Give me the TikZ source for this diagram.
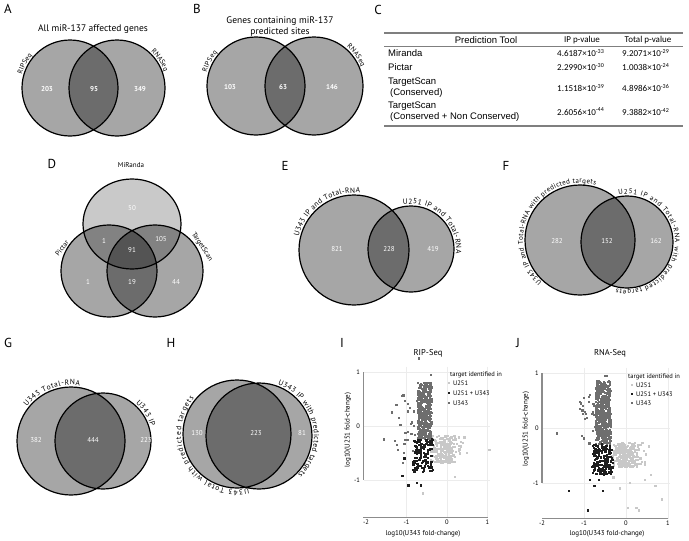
\documentclass[tikz,border=0pt]{standalone}
\usepackage{fontspec}
\setmainfont{PT Sans}
\newfontfamily\arialf{Liberation Sans}
\newfontfamily\calf{Carlito}
\usetikzlibrary{decorations.text}
\definecolor{axgray}{HTML}{8C8C8C}
\definecolor{gridgray}{HTML}{ECECEC}
\definecolor{ptlight}{HTML}{C8C8C8}
\definecolor{ptmid}{HTML}{6E6E6E}
\definecolor{ptdark}{HTML}{1E1E1E}
\definecolor{rulegray}{HTML}{7F7F7F}
\newcommand\fs[1]{\fontsize{#1}{#1}\selectfont}
\newcommand\arclab[6]{%
  \begin{scope}[shift={#1},y=1pt]
    \path[decorate,decoration={text along path,text align={fit to path},text={|\fs{#5}|#6}}] (#3:#2) arc[start angle=#3,end angle=#4,radius=#2];
  \end{scope}}
\newcommand\scat[4]{%
  \foreach \k in {1,...,#1}{%
    \pgfmathsetmacro\xa{#2}%
    \pgfmathsetmacro\ya{#3}%
    \fill[#4] (\xa,\ya) ++(-1.1pt,-1.1pt) rectangle ++(2.2pt,2.2pt);}}
\newcommand\outl[2]{%
  \foreach \p in {#1}{\fill[#2] \p ++(-1.1pt,-1.1pt) rectangle ++(2.2pt,2.2pt);}}
\tikzset{
  letter/.style={font=\fs{13}},
  vtitle/.style={font=\fs{9.5}},
  vset/.style={fill=black,fill opacity=0.35},
  vlight/.style={fill=black,fill opacity=0.21},
  vline/.style={draw=black,line width=1.2pt},
  bnum/.style={text=white,font=\fs{7}\bfseries},
  num/.style={text=white,font=\fs{7}},
  slab/.style={font=\fs{7}},
  tname/.style={font=\arialf\fs{9.5},anchor=west,inner sep=0pt},
  tval/.style={font=\calf\fs{9},anchor=west,inner sep=0pt},
  trule/.style={draw=rulegray,line width=1.5pt},
  axis/.style={draw=axgray,line width=1.3pt},
  grid/.style={draw=gridgray,line width=0.6pt},
  tick/.style={font=\fs{6.5},inner sep=1pt},
  ptitle/.style={font=\fs{8.5}},
  leg/.style={font=\fs{6.5},anchor=west,inner sep=0pt},
}
\begin{document}
\begin{tikzpicture}[x=1pt,y=-1pt]
\useasboundingbox[fill=white] (0,0) rectangle (689,541);

% ---------------- A
\node[letter] (lA) at (8,9) {A};
\node[vtitle] (tA) at (93,29) {All miR-137 affected genes};
\fill[vset] (70,88) circle[radius=48];
\fill[vset] (117,88) circle[radius=48];
\draw[vline] (70,88) circle[radius=48] (117,88) circle[radius=48];
\node[bnum] (a1) at (47,89) {203};
\node[bnum] (a2) at (94,89) {95};
\node[bnum] (a3) at (140,89) {349};
\arclab{(70,88)}{50}{164}{139}{7}{RIPSeq}
\arclab{(117,88)}{50}{47}{19}{7}{RNASeq}

% ---------------- B
\node[letter] (lB) at (197,9) {B};
\node[vtitle] (tB1) at (280,21) {Genes containing miR-137};
\node[vtitle] (tB2) at (280,32) {predicted sites};
\fill[vset] (256,86) circle[radius=49];
\fill[vset] (314,86) circle[radius=49];
\draw[vline] (256,86) circle[radius=49] (314,86) circle[radius=49];
\node[bnum] (b1) at (230,87) {103};
\node[bnum] (b2) at (283,87) {63};
\node[bnum] (b3) at (332,87) {146};
\arclab{(256,86)}{51}{165}{139}{7}{RIPSeq}
\arclab{(314,86)}{51}{50}{22}{7}{RNASeq}

% ---------------- C
\node[letter] (lC) at (378,10) {C};
\draw[trule] (384,33) -- (683,33);
\draw[draw=rulegray,line width=0.5pt] (384,46) -- (683,46);
\draw[trule] (384,126) -- (683,126);
\node[font=\arialf\fs{9.5}] (h1) at (486,40) {Prediction Tool};
\node[font=\calf\fs{9}] (h2) at (582,40) {IP p-value};
\node[font=\calf\fs{9}] (h3) at (648,40) {Total p-value};
\node[tname] (r1) at (388,53) {Miranda};
\node[tname] (r2) at (388,67) {Pictar};
\node[tname] (r3) at (388,82) {TargetScan};
\node[tname] (r3b) at (390,93) {(Conserved)};
\node[tname] (r4) at (388,106) {TargetScan};
\node[tname] (r4b) at (390,117) {(Conserved + Non Conserved)};
\node[tval] (v11) at (557,53) {4.6187×10\textsuperscript{-33}};
\node[tval] (v12) at (622,53) {9.2071×10\textsuperscript{-29}};
\node[tval] (v21) at (557,67) {2.2990×10\textsuperscript{-30}};
\node[tval] (v22) at (622,67) {1.0038×10\textsuperscript{-24}};
\node[tval] (v31) at (557,88) {1.1518×10\textsuperscript{-39}};
\node[tval] (v32) at (622,88) {4.8986×10\textsuperscript{-36}};
\node[tval] (v41) at (557,112) {2.6056×10\textsuperscript{-44}};
\node[tval] (v42) at (622,112) {9.3882×10\textsuperscript{-42}};

% ---------------- D
\node[letter] (lD) at (52,164) {D};
\fill[vlight] (132,224) circle[x radius=49,y radius=45];
\fill[vset] (109,271) circle[x radius=48,y radius=46];
\fill[vset] (155,271) circle[x radius=48,y radius=46];
\draw[vline] (132,224) circle[x radius=49,y radius=45] (109,271) circle[x radius=48,y radius=46] (155,271) circle[x radius=48,y radius=46];
\node[slab] (dm) at (131,165) {MiRanda};
\node[slab,rotate=52] (dp) at (62,248) {Pictar};
\node[slab,rotate=-57] (dt) at (202,247) {TargetScan};
\node[num] (d1) at (132,208) {50};
\node[num] (d2) at (104,241) {1};
\node[num] (d3) at (161,239) {105};
\node[num] (d4) at (132,250) {91};
\node[num] (d5) at (88,282) {1};
\node[num] (d6) at (132,282) {19};
\node[num] (d7) at (176,282) {44};

% ---------------- E
\node[letter] (lE) at (285,166) {E};
\fill[vset] (354,250) circle[radius=55];
\fill[vset] (411,249) circle[radius=43];
\draw[vline] (354,250) circle[radius=55] (411,249) circle[radius=43];
\node[num] (e1) at (337,249) {821};
\node[num] (e2) at (389,249) {228};
\node[num] (e3) at (433,249) {419};
\arclab{(354,250)}{57}{166}{84}{7.5}{U343 IP and Total-RNA}
\arclab{(411,249)}{45}{100}{-6}{7.5}{U251 IP and Total-RNA}

% ---------------- F
\node[letter] (lF) at (506,166) {F};
\fill[vset] (580,240) circle[radius=55];
\fill[vset] (627,242) circle[radius=46];
\draw[vline] (580,240) circle[radius=55] (627,242) circle[radius=46];
\node[num] (f1) at (557,241) {282};
\node[num] (f2) at (607,241) {152};
\node[num] (f3) at (656,241) {162};
\arclab{(580,240)}{57}{228}{74}{7}{U343 IP and Total-RNA with predicted targets}
\arclab{(627,242)}{48}{100}{-103}{7}{U251 IP and Total-RNA with predicted targets}

% ---------------- G
\node[letter] (lG) at (8,343) {G};
\fill[vset] (71,441) circle[radius=54];
\fill[vset] (103,441) circle[radius=48];
\draw[vline] (71,441) circle[radius=54] (103,441) circle[radius=48];
\node[num] (g1) at (36,440) {382};
\node[num] (g2) at (93,440) {444};
\node[num] (g3) at (146,440) {223};
\arclab{(71,441)}{56}{142}{81}{7.5}{U343 Total-RNA}
\arclab{(103,441)}{50}{49}{17}{7.5}{U343 IP}

% ---------------- H
\node[letter] (lH) at (171,343) {H};
\fill[vset] (237,434) circle[radius=54];
\fill[vset] (259,436) circle[radius=53];
\draw[vline] (237,434) circle[radius=54] (259,436) circle[radius=53];
\node[num] (h1n) at (197,433) {130};
\node[num] (h2n) at (256,433) {223};
\node[num] (h3n) at (302,433) {81};
\arclab{(237,434)}{56}{282}{140}{7.5}{U343 Total with predicted targets}
\arclab{(259,436)}{55}{70}{-45}{7.5}{U343 IP with predicted targets}

% ---------------- I
\node[letter] (lI) at (342,343) {I};
\node[ptitle] (tI) at (428,353) {RIP-Seq};
\begin{scope}[shift={(447,426)},x=40.5pt,y=54pt]
  \foreach \gx in {-1,0,1} \draw[grid] (\gx,1.1) -- (\gx,-1.7);
  \foreach \gy in {1,0,-1} \draw[grid] (-2.05,\gy) -- (1.05,\gy);
  \pgfmathsetseed{11}
  \scat{220}{-0.4+0.45*rnd+0.5*rnd*rnd}{-0.68+0.5*rnd}{ptlight}
  \outl{(1.05,-0.45),(0.2,-0.95),(-0.6,-1.25),(0.5,-0.5),(0.35,-0.3)}{ptlight}
  \scat{380}{-0.72+0.34*rnd}{-0.25+1.05*rnd}{ptmid}
  \scat{35}{-1.3+0.65*rnd}{-0.7+1.3*rnd}{ptmid}
  \outl{(-0.7,1.25),(-0.4,0.95),(-0.6,0.65),(-1.35,0.25),(-1.55,-0.25),(-0.55,0.45)}{ptmid}
  \scat{130}{-0.85+0.5*rnd}{-0.85+0.6*rnd}{ptdark}
  \outl{(-1.1,-0.92),(-0.95,-1.1),(-0.75,-1.05),(-0.65,-1.1),(-1.05,-0.6)}{ptdark}
  \draw[axis] (-2.07,1) -- (-2.07,-1);
  \draw[axis] (-2.07,-1.7) -- (1,-1.7);
  \foreach \t/\l in {1/1,0/0,-1/-1} \node[tick,anchor=east] (yi\t) at (-2.12,\t) {\l};
  \foreach \t/\l in {-2/-2,-1/-1,0/0,1/1} \node[tick,anchor=north] (xi\t) at (\t,-1.72) {\l};
\end{scope}
\node[font=\fs{7}] (xlI) at (423,534) {log10(U343 fold-change)};
\node[font=\fs{7},rotate=90] (ylI) at (348,430) {log10(U251 fold-change)};
\node[leg] (lgI0) at (450,375) {target identified in};
\fill[ptlight] (447.9,381.9) rectangle ++(2.2,2.2);
\fill[ptdark] (447.9,391.9) rectangle ++(2.2,2.2);
\fill[ptmid] (447.9,401.9) rectangle ++(2.2,2.2);
\node[leg] (lgI1) at (453,383) {U251};
\node[leg] (lgI2) at (453,393) {U251 + U343};
\node[leg] (lgI3) at (453,403) {U343};

% ---------------- J
\node[letter] (lJ) at (518,343) {J};
\node[ptitle] (tJ) at (610,353) {RNA-Seq};
\begin{scope}[shift={(626,428)},x=42pt,y=55pt]
  \foreach \gx in {-1,0,1} \draw[grid] (\gx,1.1) -- (\gx,-1.65);
  \foreach \gy in {1,0,-1} \draw[grid] (-2,\gy) -- (1.05,\gy);
  \pgfmathsetseed{23}
  \scat{260}{-0.35+0.45*rnd+0.55*rnd*rnd}{-0.72+0.45*rnd}{ptlight}
  \outl{(0.85,-1.3),(0.05,-1.45),(0.25,-1.45),(0.3,-1.5),(0.7,-1.05),(0.6,-0.85),(-0.15,-1.1),(0.45,-0.95),(-0.3,-0.9),(0.1,-1.0)}{ptlight}
  \scat{430}{-0.72+0.36*rnd}{-0.3+1.15*rnd}{ptmid}
  \scat{25}{-1.1+0.45*rnd}{-0.3+0.9*rnd}{ptmid}
  \outl{(-0.5,0.95),(-0.45,0.95),(-0.85,0.6),(-1.1,0.35),(-1.65,-0.1),(-0.8,0.25),(-0.95,0.25),(-1.05,-0.15)}{ptmid}
  \scat{160}{-0.8+0.5*rnd}{-0.85+0.55*rnd}{ptdark}
  \outl{(-1.35,-1.15),(-0.9,-1.5),(-0.55,-1.15),(-0.75,-1.05),(-0.65,-0.95),(-0.85,-0.95)}{ptdark}
  \draw[axis] (-2,1) -- (-2,-1);
  \draw[axis] (-2,-1.64) -- (1,-1.64);
  \foreach \t/\l in {1/1,0/0,-1/-1} \node[tick,anchor=east] (yj\t) at (-2.05,\t) {\l};
  \foreach \t/\l in {-2/-2,-1/-1,0/0,1/1} \node[tick,anchor=north] (xj\t) at (\t,-1.66) {\l};
\end{scope}
\node[font=\fs{7}] (xlJ) at (607,534) {log10(U343 fold-change)};
\node[font=\fs{7},rotate=90] (ylJ) at (526,429) {log10(U251 fold-change)};
\node[leg] (lgJ0) at (628,377) {target identified in};
\fill[ptlight] (630.9,383.9) rectangle ++(2.2,2.2);
\fill[ptdark] (630.9,392.9) rectangle ++(2.2,2.2);
\fill[ptmid] (630.9,401.9) rectangle ++(2.2,2.2);
\node[leg] (lgJ1) at (636,385) {U251};
\node[leg] (lgJ2) at (636,394) {U251 + U343};
\node[leg] (lgJ3) at (636,403) {U343};
\end{tikzpicture}
\end{document}
